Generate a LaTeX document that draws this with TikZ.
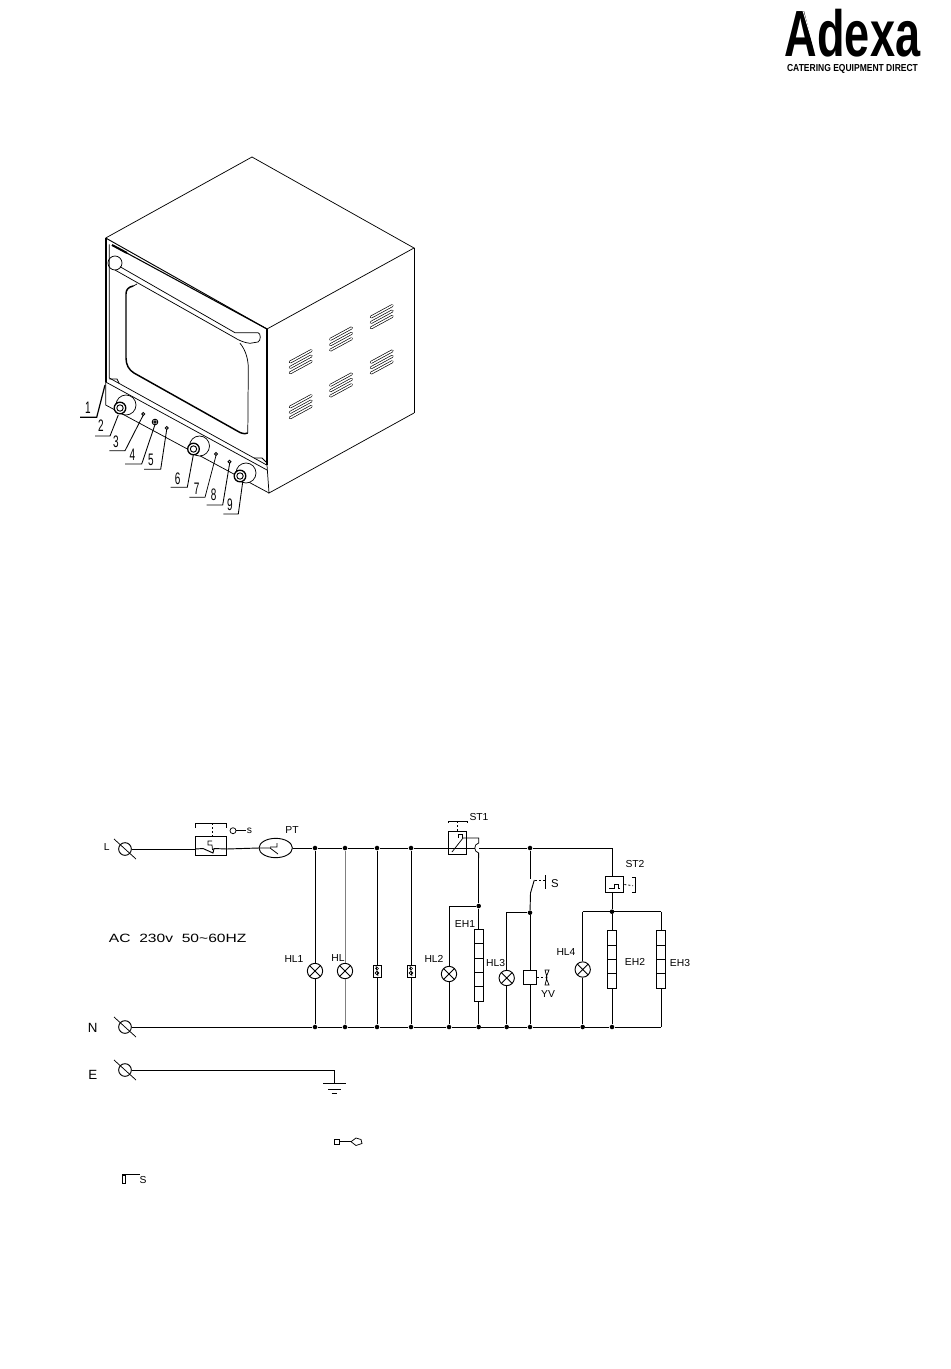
\documentclass[tikz,border=0pt]{standalone}
\usepackage{fontspec}
\setmainfont{Liberation Sans}
\usetikzlibrary{shapes.geometric}
\tikzset{
  x=.75pt,y=-.75pt,
  wire/.style={line width=.7pt,black},
  thin line/.style={line width=.55pt,black},
  heavy/.style={line width=1.5pt,black},
  dotted line/.style={line width=.6pt,dash pattern=on 1.5pt off 1.5pt},
  junction/.style={circle,fill=black,inner sep=0pt,minimum size=3.4pt},
  terminal/.style={circle,draw,line width=.7pt,inner sep=0pt,minimum size=9.5pt},
  lamp/.style={circle,draw,fill=white,line width=.7pt,inner sep=0pt,minimum size=11.5pt,
    path picture={\draw[line width=.6pt] (path picture bounding box.north west)--(path picture bounding box.south east)
      (path picture bounding box.north east)--(path picture bounding box.south west);}},
  fuse/.style={rectangle,draw,fill=white,line width=.7pt,inner sep=0pt,minimum width=6pt,minimum height=9pt},
  heater/.style={rectangle,draw,fill=white,line width=.7pt,inner sep=0pt,minimum width=6.6pt},
  clabel/.style={inner sep=0pt,font=\fontsize{7.6pt}{7.6pt}\selectfont,xscale=1.02},
  numlabel/.style={inner sep=0pt,font=\fontsize{12.5pt}{12.5pt}\selectfont,xscale=.6},
  vent/.pic={
    \foreach \d in {-5.4,0,5.4}
      \draw[line width=.5pt,double=white,double distance=1.1pt,line cap=round] (-10.5,5.7+\d)--(10.5,-5.7+\d);
  },
  knob/.pic={
    \draw[line width=.55pt,fill=white] (6,-3) circle[radius=10];
    \draw[line width=1pt,fill=white] (0,0) circle[radius=5.8];
    \draw[line width=.7pt] (0,0) circle[radius=3.2];
  },
  smallknob/.pic={\draw[line width=.7pt,fill=white] (0,0) circle[radius=1.5];}
}
\begin{document}
\begin{tikzpicture}
\useasboundingbox[fill=white] (0,0) rectangle (950,1369);

% ---------- logo
\node[inner sep=0pt,anchor=base,xscale=.69,font=\fontsize{49pt}{49pt}\selectfont\bfseries] (logo) at (852.5,57) {Adexa};
\node[inner sep=0pt,anchor=base,xscale=.84,font=\fontsize{7.6pt}{7.6pt}\selectfont\bfseries] (logosub) at (852.5,72) {CATERING EQUIPMENT DIRECT};
\draw[white,line width=.6pt] (803,11)--(817,57);

% ---------- oven body
\coordinate (top) at (252,157);
\coordinate (lt) at (105.7,238);
\coordinate (rt) at (414,248);
\coordinate (fc) at (267,329);
\coordinate (fm) at (267,465);
\coordinate (fb) at (269,493);
\coordinate (rb) at (414,413);
\coordinate (lm) at (105.7,382);
\coordinate (lb) at (105.7,405);
\draw[thin line] (lt)--(top)--(rt)--(fc);
\draw[line width=.7pt] (rt)--(rb);
\draw[thin line] (rb)--(280,487)--(fb)--(fm);
\draw[heavy] (fc)--(fm);
\draw[heavy] (lt)--(lm);
\draw[thin line] (lm)--(lb)--(fb);
% door
\draw[line width=.7pt] (lt)--(fc);
\draw[line width=.8pt] (112,245)--(fc);
\draw[heavy] (112,245)--(127,253);
\draw[thin line] (109.3,244.3)--(109.3,378)--(266.7,465);
\draw[thin line] (lm)--(267,470);
\draw[thin line] (109.3,379)--(117,379)--(119,383);
\draw[thin line] (254,458)--(262,458)--(266,462);
% handle
\draw[thin line] (120,266.7)--(235,332.7)--(258,332.7)
  .. controls (261,333) and (261,341) .. (258,342)--(250,343.3)
  .. controls (245,343) and (238,340) .. (234,337.3)--(115,270);
\draw[thin line] (115,263) circle[radius=7];
% window
\draw[line width=1.1pt] (133.3,286) .. controls (128,287) and (126,290) .. (126,294)--(126,358)
  .. controls (126,365) and (129,370) .. (134,373)--(240,432.5) .. controls (244,434) and (246,434) .. (247.7,433);
\draw[thin line] (247.8,433)--(248.3,367) .. controls (248,358) and (245,349) .. (240,343.3);
\draw[thin line] (133.3,286)--(137,284);
% vents
\path (300.7,361.7) pic {vent} (341,339) pic {vent} (381.7,316.7) pic {vent}
      (300.7,406.7) pic {vent} (341,385) pic {vent} (381.7,362) pic {vent};
% knobs
\path (120,408) pic {knob} (193.5,449) pic {knob} (240,476) pic {knob};
\path (143.3,414) pic {smallknob} (216,454) pic {smallknob} (229.5,461.7) pic {smallknob} (166.7,428) pic {smallknob};
\draw[line width=.7pt,fill=white] (155,422) circle[radius=2.8];
\draw[line width=.6pt,fill=white] (155,422) circle[radius=1.2];

% ---------- callouts
\node[numlabel] (n1) at (88,408) {1};
\node[numlabel] (n2) at (101,426) {2};
\node[numlabel] (n3) at (116,442) {3};
\node[numlabel] (n4) at (132.3,455) {4};
\node[numlabel] (n5) at (151,460) {5};
\node[numlabel] (n6) at (177.7,478.3) {6};
\node[numlabel] (n7) at (196.7,488.3) {7};
\node[numlabel] (n8) at (213.7,495) {8};
\node[numlabel] (n9) at (230,504.3) {9};
\draw[line width=.9pt] (80,417.3)--(96.7,417.3)--(105,385);
\draw[line width=.65pt] (95,436)--(110,436)--(118.3,415);
\draw[line width=.65pt] (109.3,450.7)--(125,450.7)--(143.3,415);
\draw[line width=.65pt] (125,464)--(141.7,464)--(155,424.5);
\draw[line width=.65pt] (144,469.3)--(160.7,469.3)--(166.7,429.5);
\draw[line width=.65pt] (170.7,487.3)--(187.3,487.3)--(193.3,455);
\draw[thin line] (189.3,497.3)--(205,497.3)--(216,455.5);
\draw[line width=.65pt] (206.7,505)--(222.7,505)--(229.7,463);
\draw[line width=.65pt] (223.3,514)--(238.3,514)--(242.7,482);

% ---------- circuit: terminals
\node[terminal] (TL) at (125,849) {};
\node[terminal] (TN) at (125,1027) {};
\node[terminal] (TE) at (125,1070) {};
\foreach \t in {TL,TN,TE}
  \draw[thin line] ([shift={(-11,-10)}]\t.center)--([shift={(11,10)}]\t.center);
\node[clabel] (lL) at (106.7,847) {L};
\node[inner sep=0pt,font=\fontsize{10pt}{10pt}\selectfont] (lN) at (92.7,1028) {N};
\node[inner sep=0pt,font=\fontsize{10pt}{10pt}\selectfont] (lE) at (92.7,1075) {E};
\node[inner sep=0pt,font=\fontsize{9pt}{9pt}\selectfont,xscale=1.3] (lAC) at (177.7,938.3) {AC\ \ 230v\ \ 50\textasciitilde 60HZ};

% main switch
\node[rectangle,draw,line width=.7pt,inner sep=0pt,minimum width=22.7pt,minimum height=14pt] (SW) at (211,846) {};
\draw[wire] (TL)--(SW.west |- TL);
\draw[wire] (SW.west |- TL)--(203,848.5)--(213,853)--(214,848.5)--(SW.east |- TL);
\draw[thin line] (212,841)--(208,841)--(208,845)--(212,845)--(212.5,850);
\draw[thin line] (195.7,828)--(195.7,823)--(226,823)--(226,828);
\draw[dotted line] (212,823)--(212,836.5);
\draw[wire] (236,830.7)--(246,830.7);
\draw[thin line] (233,830.7) circle[radius=3];
\node[clabel] (lSs) at (249.5,831) {s};

% PT
\node[ellipse,draw,line width=.7pt,inner sep=0pt,minimum width=25pt,minimum height=14.5pt] (PT) at (275.7,848) {};
\draw[wire] (SW.east |- TL)--(PT.west);
\draw[thin line] (PT.west)--(270,848)--(278,854) (270,847)--(277,847)--(277,843);
\node[clabel] (lPT) at (292,830) {PT};

% junctions L rail / N rail
\foreach \n/\x in {1/315,2/345,3/377,4/411}{
  \node[junction] (a\n) at (\x,848) {};
  \node[junction] (b\n) at (\x,1027) {};
}
\foreach \n/\x in {5/449,6/478.7,7/506.7,8/530,9/582.7,10/612}
  \node[junction] (b\n) at (\x,1027) {};
\coordinate (b11) at (661,1027);
\node[junction] (a8) at (530,848) {};
\coordinate (a10) at (612,848);

% rails
\draw[wire] (PT.east)--(a1)--(a2)--(a3)--(a4);
\draw[wire] (TN)--(b1)--(b2)--(b3)--(b4)--(b5)--(b6)--(b7)--(b8)--(b9)--(b10)--(b11);
\coordinate (eg) at (334.3,1070);
\coordinate (eb) at (334.3,1083.3);
\draw[wire] (TE)--(eg)--(eb);
\draw[wire] (323.3,1083.3)--(345.7,1083.3);
\draw[wire] (328,1089)--(340.7,1089);
\draw[wire] (331.7,1093.5)--(336.7,1093.5);

% lamps HL1, HL, fuses
\node[lamp] (L1) at (315,971) {};
\node[lamp] (L2) at (345,971) {};
\node[fuse] (F1) at (377,971) {};
\node[fuse] (F2) at (411,971) {};
\draw[wire] (a1)--(L1)--(b1);
\draw[wire,gray] (a2)--(L2)--(b2);
\draw[wire] (a3)--(F1)--(b3);
\draw[wire] (a4)--(F2)--(b4);
\draw[line width=.5pt] (377,968.5) circle[radius=1.5] (377,973) circle[radius=1.8] (376,966)--(378,976);
\draw[line width=.5pt] (411,968.5) circle[radius=1.5] (411,973) circle[radius=1.8] (410,966)--(412,976);
\node[clabel] (lHL1) at (294,959) {HL1};
\node[clabel] (lHL) at (338,958.5) {HL};

% ST1
\node[rectangle,draw,line width=.7pt,inner sep=0pt,minimum width=14pt,minimum height=17pt] (ST1) at (457.5,843) {};
\draw[wire] (a4)--(ST1.west |- a4);
\draw[wire] (ST1.west |- a4)--(ST1.east |- a4);
\draw[thin line] (452,852)--(463,838)--(478.7,838)--(478.7,843)
  .. controls (473.5,844) and (473.5,852) .. (478.7,853)--(478.7,858);
\draw[thin line] (458,838)--(458,834)--(462,834)--(462,838);
\draw[wire] (ST1.east |- a4)--(474.5,848);
\draw[wire] (479,848)--(a8)--(a10);
\draw[thin line] (448,823)--(448,821)--(467,821)--(467,823);
\draw[dotted line] (457.5,821)--(457.5,831);
\node[clabel] (lST1) at (479,817.5) {ST1};

% HL2 / EH1
\node[junction] (j1) at (478.7,906) {};
\coordinate (j1l) at (449,906);
\node[lamp] (L3) at (449,974) {};
\node[heater,minimum height=54pt] (EH1) at (478.7,965.3) {};
\draw[wire] (478.7,853)--(j1)--(EH1)--(b6);
\draw[wire] (j1)--(j1l)--(L3)--(b5);
\foreach \y in {943.3,958,972,986.7} \draw[thin line] (474.3,\y)--(483.1,\y);
\node[clabel] (lHL2) at (434,959) {HL2};
\node[clabel] (lEH1) at (465,924) {EH1};

% S, HL3, YV
\node[junction] (j2) at (530,912.7) {};
\coordinate (j2l) at (506.7,912.7);
\coordinate (s1) at (530,879);
\coordinate (s2) at (530.5,893);
\draw[wire] (a8)--(s1);
\draw[wire] (534.3,880)--(s2)--(j2);
\node[lamp] (L4) at (506.7,978) {};
\node[rectangle,draw,fill=white,line width=.8pt,inner sep=0pt,minimum width=10pt,minimum height=10.7pt] (YV) at (530,977.5) {};
\draw[wire] (j2)--(YV)--(b8);
\draw[wire] (j2)--(j2l)--(L4)--(b7);
\draw[dotted line] (535,880)--(545.7,880);
\draw[thin line] (545.7,875)--(545.7,889);
\node[inner sep=0pt,font=\fontsize{8.5pt}{8.5pt}\selectfont] (lS) at (555,884) {S};
\node[clabel] (lHL3) at (495.7,963.5) {HL3};
\draw[dotted line] (YV.east)--(545,977.5);
\draw[thin line] (545,970)--(549,970)--(546,977.5)--(549,985)--(545,985)--(547,977.5)--cycle;
\node[clabel] (lYV) at (548,994) {YV};

% ST2 group
\node[rectangle,draw,fill=white,line width=.7pt,inner sep=0pt,minimum width=14pt,minimum height=11.7pt] (ST2) at (614.6,884.5) {};
\draw[wire] (a10)--(a10 |- ST2.north);
\node[junction] (j3) at (612,911.7) {};
\draw[wire] (612,892.3)--(j3);
\coordinate (j3l) at (582.7,911.7);
\coordinate (j3r) at (661,911.7);
\node[lamp] (L5) at (582.7,969.5) {};
\node[heater,minimum height=43.2pt] (EH2) at (612,959.5) {};
\node[heater,minimum height=43.2pt] (EH3) at (661,959.5) {};
\draw[wire] (j3l)--(j3r);
\draw[wire] (j3)--(EH2)--(b10);
\draw[wire] (j3l)--(L5)--(b9);
\draw[wire] (j3r)--(EH3)--(b11);
\foreach \y in {945.3,959.7,973.7} \draw[thin line] (607.6,\y)--(616.4,\y) (656.6,\y)--(665.4,\y);
\draw[thin line] (609,888)--(614,888)--(614,884)--(618,884)--(618,888)--(620,888);
\draw[dotted line] (ST2.east)--(633,885.7);
\draw[thin line] (632,877.5)--(635,877.5)--(635,892.3)--(632,892.3);
\node[clabel] (lST2) at (635,864) {ST2};
\node[clabel] (lHL4) at (566,951.7) {HL4};
\node[clabel] (lEH2) at (635,962) {EH2};
\node[clabel] (lEH3) at (680,962.7) {EH3};

% stray symbols
\draw[thin line] (334,1139) rectangle (339,1144.5);
\draw[thin line] (339,1141.7)--(351,1141.7);
\draw[thin line] (351,1141.7)--(356,1138)--(361,1139.5)--(362,1143.5)--(356,1145.5)--cycle;
\draw[line width=.8pt] (122,1174.5)--(140,1174.5);
\draw[thin line] (122,1175) rectangle (125.5,1183.5);
\node[clabel] (lstray) at (143,1179.5) {S};
\end{tikzpicture}
\end{document}
